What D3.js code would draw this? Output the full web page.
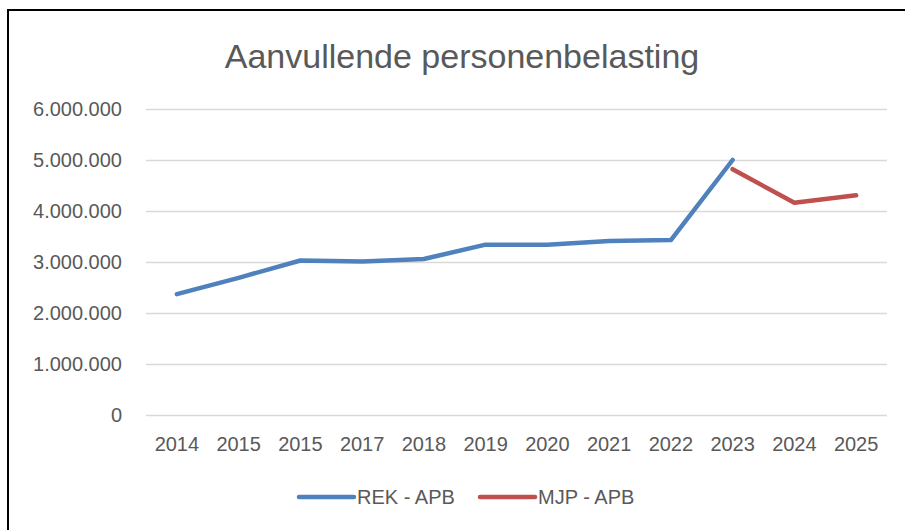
<!DOCTYPE html>
<html>
<head>
<meta charset="utf-8">
<script src="https://cdn.jsdelivr.net/npm/d3@7"></script>
<style>
  body { margin: 0; background: #fff; }
  svg { display: block; font-family: "Liberation Sans Narrow", "Liberation Sans", sans-serif; }
</style>
</head>
<body>
<svg id="chart" width="905" height="530"></svg>
<script>
var title = 'Aanvullende personenbelasting'
var years = ['2014', '2015', '2015', '2017', '2018', '2019', '2020', '2021', '2022', '2023', '2024', '2025']
var yTicks = [0, 1e6, 2e6, 3e6, 4e6, 5e6, 6e6]

// REK - APB: 2014..2023, MJP - APB: 2023..2025 (index into years)
var rekValues = [2370000, 2690000, 3030000, 3010000, 3060000, 3340000, 3340000, 3410000, 3430000, 5000000]
var mjpValues = [4820000, 4160000, 4310000]

var series = [
  {name: 'REK - APB', color: '#4f81bd', start: 0, values: rekValues},
  {name: 'MJP - APB', color: '#c0504d', start: 9, values: mjpValues}
]

var svg = d3.select('#chart')
var grey = '#595959'

// frame
svg.append('path')
  .attr('d', 'M8,530V10H905')
  .attr('fill', 'none')
  .attr('stroke', '#000')
  .attr('stroke-width', 2)

var x = d3.scaleBand().domain(d3.range(years.length)).range([146, 887])
var y = d3.scaleLinear().domain([0, 6e6]).range([415, 109])
var cx = i => x(i) + x.bandwidth() / 2

var nl = d3.formatLocale({decimal: ',', thousands: '.', grouping: [3], currency: ['€', '']})
var fmt = nl.format(',.0f')

svg.append('text')
  .attr('x', 462).attr('y', 68)
  .attr('text-anchor', 'middle')
  .attr('fill', grey)
  .style('font-size', '34px')
  .text(title)

// grid + y labels
var yAxis = d3.axisLeft(y).tickValues(yTicks).tickFormat(fmt).tickSize(-(887 - 146)).tickPadding(24)
var gy = svg.append('g').attr('transform', 'translate(146,0)').call(yAxis)
gy.select('.domain').remove()
gy.selectAll('line').attr('stroke', '#d9d9d9').attr('stroke-width', 1.5)
gy.selectAll('text').attr('fill', grey).style('font-size', '20px')

// x labels
var xAxis = d3.axisBottom(x).tickFormat(i => years[i]).tickSize(0).tickPadding(22)
var gx = svg.append('g').attr('transform', 'translate(0,415)').call(xAxis)
gx.select('.domain').remove()
gx.selectAll('text').attr('fill', grey).style('font-size', '20px')

var line = d3.line()
  .x(d => cx(d.i))
  .y(d => y(d.v))

series.forEach(s => {
  var pts = s.values.map((v, k) => ({i: s.start + k, v: v}))
  svg.append('path')
    .datum(pts)
    .attr('d', line)
    .attr('fill', 'none')
    .attr('stroke', s.color)
    .attr('stroke-width', 4.5)
    .attr('stroke-linecap', 'round')
    .attr('stroke-linejoin', 'round')
})

// legend
var legX = [299, 480]
var leg = svg.selectAll('.leg').data(series).enter().append('g')
  .attr('transform', (d, k) => 'translate(' + legX[k] + ',497)')
leg.append('line')
  .attr('x1', 0).attr('x2', 55)
  .attr('stroke', d => d.color)
  .attr('stroke-width', 4.5)
  .attr('stroke-linecap', 'round')
leg.append('text')
  .attr('x', 58).attr('dy', '0.35em')
  .attr('fill', grey)
  .style('font-size', '20px')
  .text(d => d.name)
</script>
</body>
</html>
